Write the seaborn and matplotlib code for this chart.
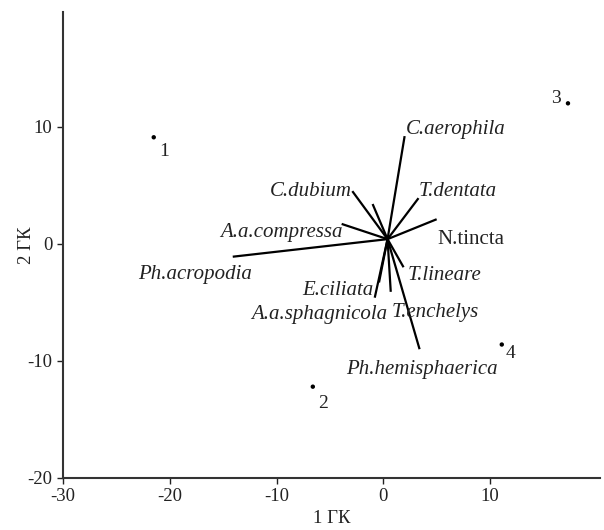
import matplotlib
matplotlib.use("Agg")
import matplotlib.pyplot as plt
import seaborn as sns
import pandas as pd

# --- data ---
site_names = ["1", "2", "3", "4"]
site_x = [-21.5, -6.6, 17.3, 11.1]
site_y = [9.1, -12.2, 12.0, -8.6]

species = ["C.aerophila", "C.dubium", "", "T.dentata", "N.tincta", "A.a.compressa",
           "Ph.acropodia", "T.lineare", "E.ciliata", "A.a.sphagnicola",
           "T.enchelys", "Ph.hemisphaerica"]
vec_x = [2.0, -2.9, -1.0, 3.3, 5.0, -3.9, -14.1, 1.9, -0.4, -0.8, 0.7, 3.4]
vec_y = [9.2, 4.5, 3.4, 3.9, 2.1, 1.7, -1.1, -2.0, -3.3, -4.6, -4.1, -9.0]
origin_x = 0.4
origin_y = 0.4

x_ticks = [-30, -20, -10, 0, 10]
y_ticks = [-20, -10, 0, 10]
x_label = "1 ГК"
y_label = "2 ГК"

# --- layout (label anchor positions and alignment) ---
sp_lab_x = [2.1, -2.9, None, 3.35, 5.1, -3.8, -12.3, 2.3, -0.9, 0.4, 0.8, 3.6]
sp_lab_y = [9.75, 4.45, None, 4.45, 0.35, 1.0, -2.65, -2.7, -3.95, -6.05, -5.85, -10.75]
sp_lab_ha = ["left", "right", None, "left", "left", "right", "right", "left",
             "right", "right", "left", "center"]
site_lab_x = [-21.0, -6.1, 15.7, 11.5]
site_lab_y = [7.9, -13.6, 12.4, -9.4]

sns.set_style("ticks")
plt.rcParams["font.family"] = ["Liberation Serif", "DejaVu Serif"]
plt.rcParams["axes.unicode_minus"] = False

fig = plt.figure(figsize=(6.04, 5.30), dpi=100)
ax = fig.add_axes([63/604, 52/530, (600-63)/604, (478-12)/530])

# vectors
for sx, sy in zip(vec_x, vec_y):
    ax.plot([origin_x, sx], [origin_y, sy], color="black", lw=1.6, solid_capstyle="butt")

sites = pd.DataFrame({"x": site_x, "y": site_y})
sns.scatterplot(data=sites, x="x", y="y", ax=ax, color="black", s=10,
                edgecolor="none", zorder=3, legend=False)

for name, lx, ly, ha in zip(species, sp_lab_x, sp_lab_y, sp_lab_ha):
    if not name:
        continue
    style = "normal" if name == "N.tincta" else "italic"
    ax.text(lx, ly, name, fontsize=15, style=style, ha=ha, va="center",
            color="#222222")
for name, lx, ly in zip(site_names, site_lab_x, site_lab_y):
    ax.text(lx, ly, name, fontsize=14, ha="left", va="center", color="#222222")

ax.set_xlim(-30, 20.3)
ax.set_ylim(-20, 19.8)
ax.set_xticks(x_ticks)
ax.set_yticks(y_ticks)
ax.tick_params(axis="both", labelsize=13.5, colors="#222222", length=4, width=1)
ax.set_xlabel(x_label, fontsize=13.5, labelpad=3, color="#222222")
ax.set_ylabel(y_label, fontsize=13.5, color="#222222")
ax.yaxis.set_label_coords(-0.053, 0.5)
sns.despine(ax=ax)
for sp in ["left", "bottom"]:
    ax.spines[sp].set_color("#333333")
    ax.spines[sp].set_linewidth(1.5)

fig.savefig("out.png", dpi=100)
